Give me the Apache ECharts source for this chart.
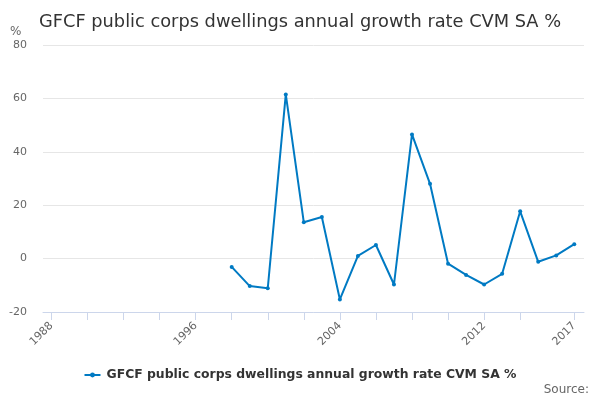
<!DOCTYPE html>
<html>
<head>
<meta charset="utf-8">
<script src="https://cdn.jsdelivr.net/npm/echarts@6/dist/echarts.min.js"></script>
<style>
html,body{margin:0;padding:0;background:#fff;}
#chart{width:600px;height:400px;}
</style>
</head>
<body>
<div id="chart"></div>
<script>
var titleText = 'GFCF public corps dwellings annual growth rate CVM SA %';
var seriesName = 'GFCF public corps dwellings annual growth rate CVM SA %';
var years = [1998, 1999, 2000, 2001, 2002, 2003, 2004, 2005, 2006, 2007, 2008, 2009, 2010, 2011, 2012, 2013, 2014, 2015, 2016, 2017];
var values = [-3.1, -10.3, -11.1, 61.5, 13.6, 15.6, -15.3, 1.0, 5.1, -9.7, 46.5, 28.0, -1.9, -6.1, -9.7, -5.7, 17.7, -1.2, 1.2, 5.4];
var xTickValues = [1988, 1990, 1992, 1994, 1996, 1998, 2000, 2002, 2004, 2006, 2008, 2010, 2012, 2014, 2017];
var xLabelValues = [1988, 1996, 2004, 2012, 2017];
var yMin = -20, yMax = 80, yStep = 20;

var pairs = years.map(function (y, i) { return [y, values[i]]; });
var font = 'DejaVu Sans';
var chart = echarts.init(document.getElementById('chart'), null, {renderer: 'canvas'});
chart.setOption({
  animation: false,
  backgroundColor: '#ffffff',
  title: {
    text: titleText,
    left: 34,
    top: 8,
    textStyle: {fontFamily: font, fontSize: 17.8, fontWeight: 'normal', color: '#333333'}
  },
  legend: {
    top: 364,
    left: 'center',
    itemWidth: 16,
    itemHeight: 6,
    itemGap: 10,
    textStyle: {fontFamily: font, fontSize: 12.4, fontWeight: 'bold', color: '#333333', padding: [0, 0, 0, 1]},
    data: [seriesName]
  },
  grid: {left: 43, right: 16, top: 45, bottom: 88, containLabel: false, outerBoundsMode: 'none'},
  xAxis: {
    type: 'value',
    min: 1987.534,
    max: 2017.54,
    splitLine: {show: false},
    axisLine: {show: true, onZero: false, lineStyle: {color: '#ccd6eb', width: 1}},
    axisTick: {show: true, inside: false, length: 8, lineStyle: {color: '#ccd6eb'}, customValues: xTickValues},
    axisLabel: {
      customValues: xLabelValues,
      rotate: 45,
      margin: 12,
      color: '#666666',
      fontFamily: font,
      fontSize: 11,
      formatter: function (v) { return String(Math.round(v)); }
    }
  },
  yAxis: {
    type: 'value',
    min: yMin,
    max: yMax,
    interval: yStep,
    axisLine: {show: false},
    axisTick: {show: false},
    splitLine: {lineStyle: {color: '#e6e6e6', width: 1}},
    axisLabel: {color: '#666666', fontFamily: font, fontSize: 11, margin: 16}
  },
  graphic: [
    {type: 'text', left: 10, top: 26, style: {text: '%', fill: '#666666', font: '12px "DejaVu Sans"'}},
    {type: 'text', right: 11, top: 384, style: {text: 'Source:', fill: '#666666', font: '12px "DejaVu Sans"'}}
  ],
  series: [{
    name: seriesName,
    type: 'line',
    data: pairs,
    color: '#007ac3',
    lineStyle: {width: 2, color: '#007ac3'},
    symbol: 'circle',
    symbolSize: 4,
    showSymbol: true,
    itemStyle: {color: '#007ac3'}
  }]
});
</script>
</body>
</html>
